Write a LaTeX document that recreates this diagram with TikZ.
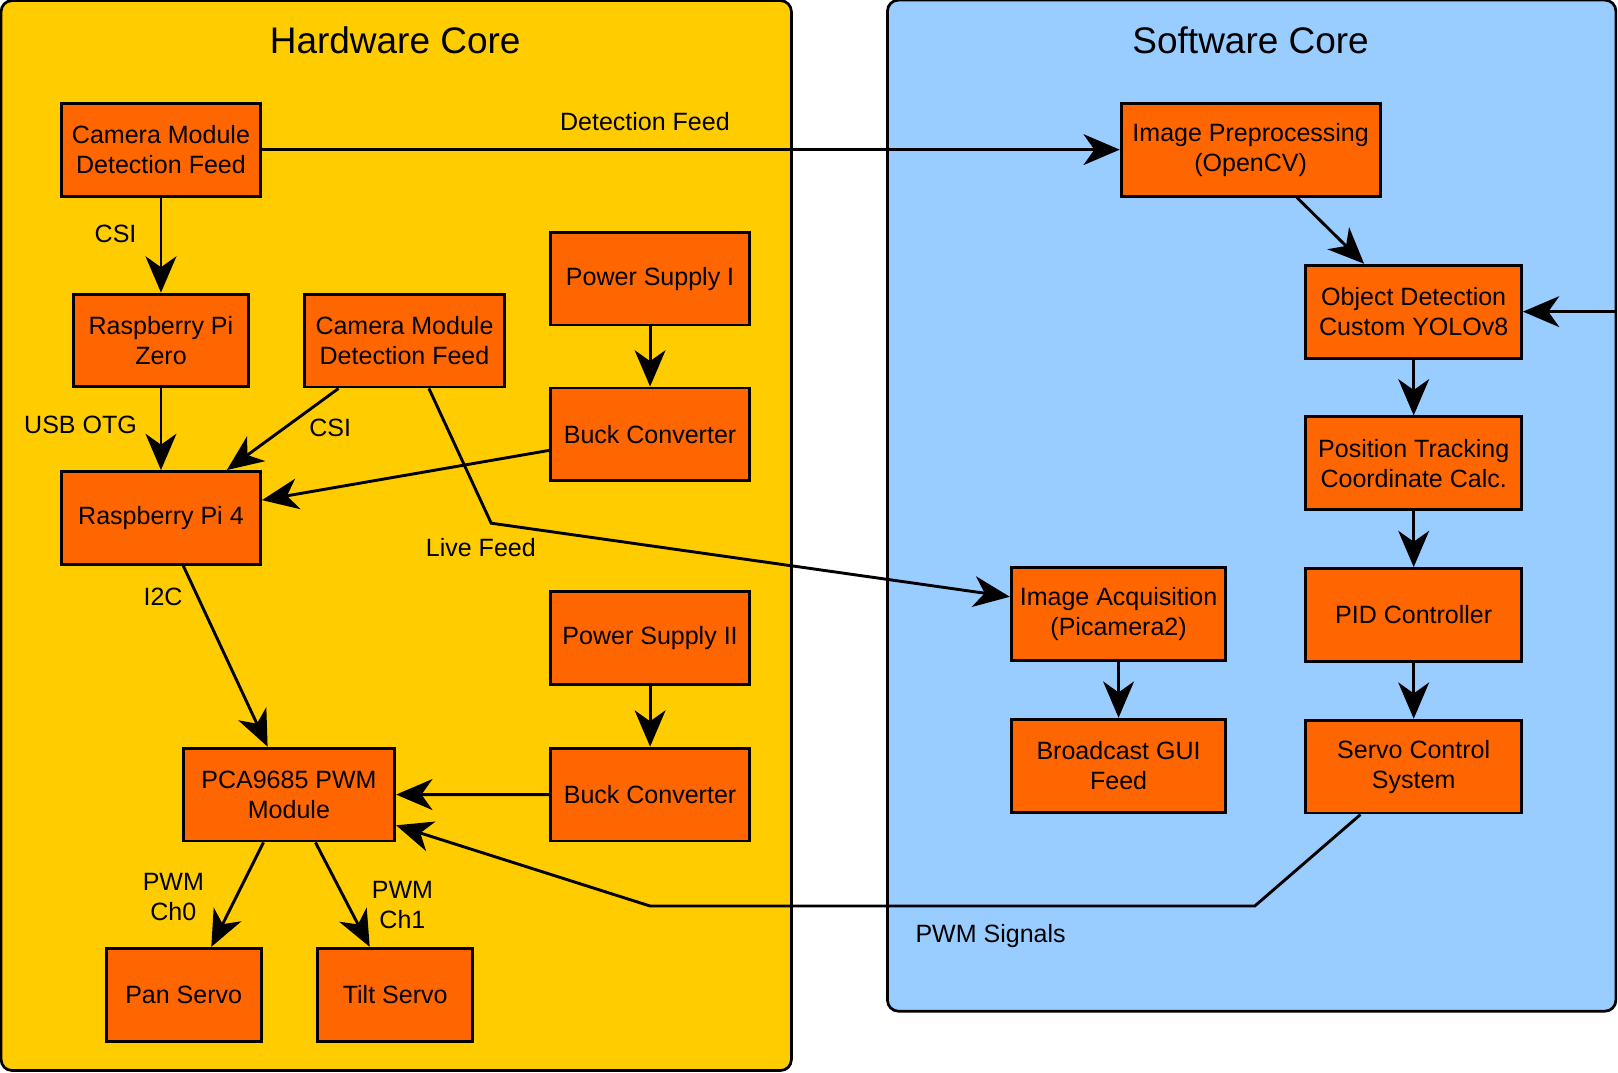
\documentclass[tikz,border=0pt]{standalone}
\usepackage{fontspec}
\setmainfont{Liberation Sans}
\usetikzlibrary{arrows.meta}

\definecolor{hwyellow}{HTML}{FFCC00}
\definecolor{swblue}{HTML}{99CCFF}
\definecolor{blkorange}{HTML}{FF6600}

\begin{document}
\begin{tikzpicture}[x=0.02cm, y=-0.02cm, node distance=2.94cm, ->, >={Stealth[length=20pt,width=17pt,inset=6pt]},
                    line width=1.6pt, font=\fontsize{13.8}{16.5}\selectfont]
    \tikzset{block/.style={draw, fill=blkorange, minimum width=#1, minimum height=1.8cm, align=center, inner sep=2pt},
             block/.default=3.86cm,
             panel/.style={draw, line width=1.5pt, rounded corners=6pt, inner sep=0pt},
             heading/.style={font=\fontsize{20.4}{24}\selectfont},
             lbl/.style={align=center}}
    \useasboundingbox (0,0) rectangle (1568,1039);

    % the two cores
    \node[panel, fill=hwyellow, minimum width=15.32cm, minimum height=20.74cm] (hw) at (384,519) {};
    \node[panel, fill=swblue, minimum width=14.12cm, minimum height=19.6cm] (sw) at (1213,490) {};
    \node[heading] (hwtitle) at (383,39)  {Hardware Core};
    \node[heading] (swtitle) at (1212,39) {Software Core};

    % hardware side
    \node[block] (cam) at (156,145) {Camera Module\\Detection Feed};
    \node[block=3.4cm] (rpizero) [below of=cam, node distance=3.7cm] {Raspberry Pi\\Zero};
    \node[block] (rpifour)  [below of=rpizero, node distance=3.44cm] {Raspberry Pi 4};
    \node[block] (camlive)  at (392,330) {Camera Module\\Detection Feed};
    \node[block] (psone)    at (630,270) {Power Supply I};
    \node[block] (buckone)  [below of=psone, node distance=3.02cm] {Buck Converter};
    \node[block] (pstwo)    at (630,618) {Power Supply II};
    \node[block] (bucktwo)  [below of=pstwo, node distance=3.04cm] {Buck Converter};
    \node[block=4.1cm] (pca) at (280,770) {PCA9685 PWM\\Module};
    \node[block=3cm] (pan)  at (178,964) {Pan Servo};
    \node[block=3cm] (tilt) [right of=pan, node distance=4.1cm] {Tilt Servo};

    % software side
    \node[block=5.02cm] (preproc)  at (1212,145) {Image Preprocessing\\(OpenCV)};
    \node[block=4.18cm] (detect)   at (1370,302) {Object Detection\\Custom YOLOv8};
    \node[block=4.18cm] (track)    [below of=detect] {Position Tracking\\Coordinate Calc.};
    \node[block=4.18cm] (pid)      [below of=track]  {PID Controller};
    \node[block=4.18cm] (servoctl) [below of=pid]    {Servo Control\\System};
    \node[block=4.16cm] (acquire)  at (1084,595) {Image Acquisition\\(Picamera2)};
    \node[block=4.16cm] (broadcast) [below of=acquire] {Broadcast GUI\\Feed};
    \coordinate (feedback) at (1567,302);

    % connector labels
    \node[lbl] (lbldetfeed) at (625,118) {Detection Feed};
    \node[lbl] (lblcsione)  at (112,227) {CSI};
    \node[lbl] (lblusb)     at (78,412)  {USB OTG};
    \node[lbl] (lblcsitwo)  at (320,415) {CSI};
    \node[lbl] (lbllive)    at (466,531) {Live Feed};
    \node[lbl] (lblitwoc)   at (158,578) {I2C};
    \node[lbl] (lblchzero)  at (168,869) {PWM\\Ch0};
    \node[lbl] (lblchone)   at (390,877) {PWM\\Ch1};
    \node[lbl] (lblpwm)     at (960,907) {PWM Signals};

    \path (cam)          edge (preproc)
          (cam)          edge (rpizero)
          (rpizero)      edge (rpifour)
          (camlive.216)  edge (rpifour.36)
          (psone)        edge (buckone)
          (buckone.189)  edge (rpifour.10)
          (rpifour.-65)  edge (pca.114)
          (pstwo)        edge (bucktwo)
          (bucktwo)      edge (pca)
          (pca.-118)     edge (pan.60)
          (pca.-61)      edge (tilt.118)
          (preproc.-46)  edge (detect.136)
          (feedback)     edge (detect)
          (detect)       edge (track)
          (track)        edge (pid)
          (pid)          edge (servoctl)
          (acquire)      edge (broadcast);
    \draw (camlive.-63) -- (476,507) -- (acquire.171);
    \draw (servoctl.222) -- (1216,878) -- (630,878) -- (pca.-16);
\end{tikzpicture}
\end{document}
